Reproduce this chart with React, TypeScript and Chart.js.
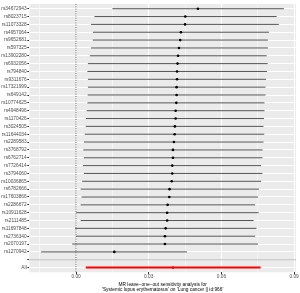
import React, { useEffect, useRef } from "react";
import { Chart, registerables } from "chart.js";

Chart.register(...registerables);

const snpLabels = [
  "rs34672943", "rs8023715", "rs11073328", "rs4957064", "rs9652681", "rs597325",
  "rs13902280", "rs6932056", "rs794840", "rs9311676", "rs17321999", "rs649142",
  "rs10774625", "rs4948496", "rs1170426", "rs3024505", "rs11644034", "rs2289583",
  "rs3768792", "rs6762714", "rs7726414", "rs3794060", "rs10036865", "rs6782666",
  "rs17603866", "rs2286672", "rs10911628", "rs2111485", "rs11697848", "rs2736340",
  "rs2070197", "rs1270942",
];
const betas = [
  0.0503, 0.0451, 0.0450, 0.0433, 0.0430, 0.0425, 0.0421, 0.0419, 0.0417, 0.0417, 0.0415, 0.0415,
  0.0414, 0.0411, 0.0411, 0.0408, 0.0407, 0.0404, 0.0400, 0.0400, 0.0397, 0.0397, 0.0395, 0.0386,
  0.0385, 0.0378, 0.0376, 0.0376, 0.0370, 0.0367, 0.0367, 0.0158,
];
const lows = [
  0.0150, 0.0076, 0.0062, 0.0070, 0.0069, 0.0062, 0.0057, 0.0049, 0.0047, 0.0049, 0.0049, 0.0048,
  0.0047, 0.0044, 0.0041, 0.0040, 0.0036, 0.0033, 0.0030, 0.0032, 0.0029, 0.0032, 0.0025, 0.0019,
  0.0023, 0.0019, 0.0001, 0.0019, -0.0004, 0.0000, -0.0016, -0.0144,
];
const highs = [
  0.0858, 0.0828, 0.0837, 0.0796, 0.0792, 0.0792, 0.0787, 0.0791, 0.0788, 0.0784, 0.0782, 0.0782,
  0.0778, 0.0778, 0.0776, 0.0774, 0.0777, 0.0774, 0.0770, 0.0769, 0.0764, 0.0769, 0.0764, 0.0755,
  0.0751, 0.0739, 0.0754, 0.0733, 0.0745, 0.0739, 0.0751, 0.0458,
];
const allBeta = 0.0400;
const allLow = 0.0040;
const allHigh = 0.0762;

const rowLabels = [...snpLabels, "", "All"];
const xTicks = [-0.015, 0, 0.015, 0.03, 0.045, 0.06, 0.075, 0.09];
const xMajorLabels: Record<string, string> = { "0": "0.00", "0.03": "0.03", "0.06": "0.06", "0.09": "0.09" };
const titleLines = [
  "MR leave\u2212one\u2212out sensitivity analysis for",
  "'Systemic lupus erythematosus' on 'Lung cancer || id:966'",
];

const FONT = "4.8px 'Liberation Sans', Arial, sans-serif";

export default function App() {
  const ref = useRef<HTMLCanvasElement>(null);
  useEffect(() => {
    document.body.style.margin = "0";
    const nRows = rowLabels.length;
    const blankRow = snpLabels.length + 1;
    const allRow = snpLabels.length + 2;

    const datasets: any[] = [];
    datasets.push({
      type: "line",
      data: [{ x: 0, y: 0.4 }, { x: 0, y: nRows + 0.6 }],
      borderColor: "#222",
      borderWidth: 0.7,
      borderDash: [1, 1.3],
      pointRadius: 0,
    });
    snpLabels.forEach((_, i) => {
      datasets.push({
        type: "line",
        data: [{ x: lows[i], y: i + 1 }, { x: highs[i], y: i + 1 }],
        borderColor: "rgba(0,0,0,0.75)",
        borderWidth: 0.9,
        pointRadius: 0,
      });
    });
    datasets.push({
      type: "line",
      data: [{ x: allLow, y: allRow }, { x: allHigh, y: allRow }],
      borderColor: "#FF0000",
      borderWidth: 2,
      pointRadius: 0,
    });
    datasets.push({
      type: "scatter",
      data: betas.map((b, i) => ({ x: b, y: i + 1 })),
      backgroundColor: "#000",
      borderWidth: 0,
      pointRadius: 1.3,
    });
    datasets.push({
      type: "scatter",
      data: [{ x: allBeta, y: allRow }],
      backgroundColor: "#FF0000",
      borderWidth: 0,
      pointRadius: 1.3,
    });
    datasets.push({
      type: "line",
      data: [{ x: -1, y: blankRow }, { x: 1, y: blankRow }],
      borderColor: "#BEBEBE",
      borderWidth: 1,
      pointRadius: 0,
    });

    const bgPlugin = {
      id: "panelBg",
      beforeDraw(chart: any) {
        const { ctx, chartArea: a } = chart;
        ctx.save();
        ctx.fillStyle = "#EBEBEB";
        ctx.fillRect(a.left, a.top, a.right - a.left, a.bottom - a.top);
        ctx.restore();
      },
      afterDraw(chart: any) {
        const { ctx, chartArea: a } = chart;
        const xs = chart.scales.x;
        const ys = chart.scales.y;
        ctx.save();
        ctx.font = FONT;
        ctx.fillStyle = "#4D4D4D";
        ctx.textAlign = "right";
        ctx.textBaseline = "middle";
        rowLabels.forEach((lab, i) => {
          ctx.fillText(lab, a.left - 2.6, ys.getPixelForValue(i + 1));
        });
        ctx.textAlign = "center";
        ctx.textBaseline = "top";
        xTicks.forEach((t) => {
          const lab = xMajorLabels[String(t)];
          if (lab) ctx.fillText(lab, xs.getPixelForValue(t), a.bottom + 2.2);
        });
        ctx.fillStyle = "#000";
        const cx = (a.left + a.right) / 2;
        ctx.fillText(titleLines[0], cx, a.bottom + 9.6);
        ctx.fillText(titleLines[1], cx, a.bottom + 14.8);
        ctx.restore();
      },
    };

    const chart = new Chart(ref.current!, {
      type: "scatter",
      data: { datasets },
      options: {
        animation: false,
        responsive: false,
        events: [],
        layout: { padding: { left: 0, right: 2.7, top: 0, bottom: 0 } },
        plugins: { legend: { display: false }, tooltip: { enabled: false } },
        scales: {
          x: {
            type: "linear",
            min: -0.0193,
            max: 0.0908,
            afterBuildTicks: (s: any) => {
              s.ticks = xTicks.map((v) => ({ value: v }));
            },
            afterFit: (s: any) => {
              s.height = 20.7;
            },
            ticks: { display: false },
            border: { display: false },
            grid: {
              color: "#FFFFFF",
              lineWidth: (c: any) => (xMajorLabels[String(c.tick?.value)] ? 1 : 0.5),
              tickColor: (c: any) => (xMajorLabels[String(c.tick?.value)] ? "#333333" : "rgba(0,0,0,0)"),
              tickLength: 2,
              drawTicks: true,
            },
          },
          y: {
            type: "linear",
            reverse: true,
            min: 0.4,
            max: nRows + 0.6,
            afterBuildTicks: (s: any) => {
              s.ticks = rowLabels.map((_, i) => ({ value: i + 1 }));
            },
            afterFit: (s: any) => {
              s.width = 29.3;
            },
            ticks: { display: false },
            border: { display: false },
            grid: {
              color: "#FFFFFF",
              lineWidth: 1,
              tickColor: "#333333",
              tickLength: 2,
              drawTicks: true,
            },
          },
        },
      },
      plugins: [bgPlugin],
    });
    return () => chart.destroy();
  }, []);
  return (
    <div style={{ width: 300, height: 293 }}>
      <canvas ref={ref} width={300} height={293} style={{ display: "block", width: 300, height: 293 }} />
    </div>
  );
}
